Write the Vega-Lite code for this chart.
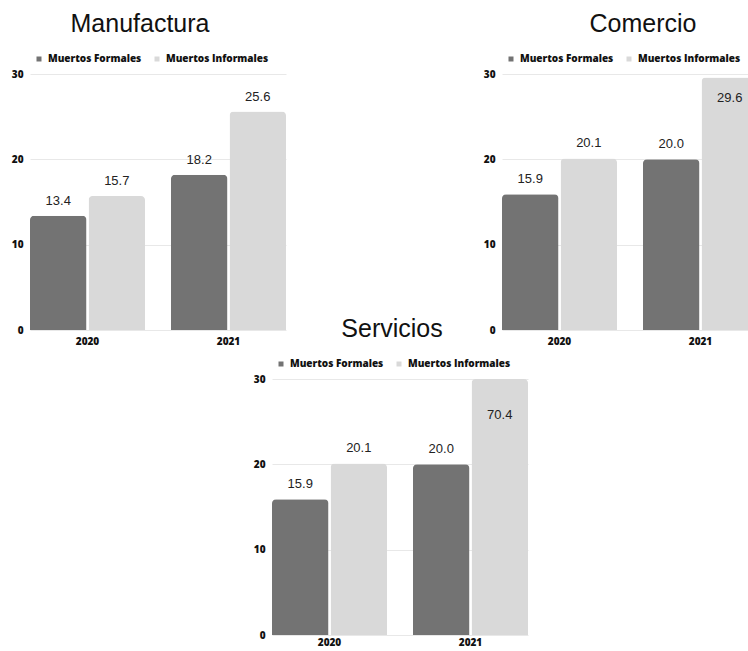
{
  "$schema": "https://vega.github.io/schema/vega-lite/v6.json",
  "padding": {"left": 11, "top": 12, "right": 0, "bottom": 0},
  "background": "white",
  "datasets": {
    "muertes": [
      {"sector": "Manufactura", "anio": "2020", "tipo": "Muertos Formales", "valor": 13.4},
      {"sector": "Manufactura", "anio": "2020", "tipo": "Muertos Informales", "valor": 15.7},
      {"sector": "Manufactura", "anio": "2021", "tipo": "Muertos Formales", "valor": 18.2},
      {"sector": "Manufactura", "anio": "2021", "tipo": "Muertos Informales", "valor": 25.6},
      {"sector": "Comercio", "anio": "2020", "tipo": "Muertos Formales", "valor": 15.9},
      {"sector": "Comercio", "anio": "2020", "tipo": "Muertos Informales", "valor": 20.1},
      {"sector": "Comercio", "anio": "2021", "tipo": "Muertos Formales", "valor": 20.0},
      {"sector": "Comercio", "anio": "2021", "tipo": "Muertos Informales", "valor": 29.6},
      {"sector": "Servicios", "anio": "2020", "tipo": "Muertos Formales", "valor": 15.9},
      {"sector": "Servicios", "anio": "2020", "tipo": "Muertos Informales", "valor": 20.1},
      {"sector": "Servicios", "anio": "2021", "tipo": "Muertos Formales", "valor": 20.0},
      {"sector": "Servicios", "anio": "2021", "tipo": "Muertos Informales", "valor": 70.4}
    ]
  },
  "config": {
    "view": {"stroke": null},
    "axis": {
      "labelFont": "Open Sans", "labelFontWeight": 800, "labelFontSize": 10, "labelColor": "#111",
      "domain": false, "ticks": false, "title": null
    },
    "axisX": {"labelAngle": 0, "labelPadding": 6, "grid": false},
    "axisY": {"labelPadding": 7, "grid": true, "gridColor": "#e8e8e8"},
    "legend": {
      "orient": "top", "direction": "horizontal", "title": null, "symbolType": "square", "symbolSize": 25,
      "labelFont": "Open Sans", "labelFontWeight": 800, "labelFontSize": 10, "labelColor": "#111",
      "labelOffset": 4, "columnPadding": 10, "padding": 4, "offset": 6
    },
    "title": {"font": "Liberation Sans", "fontSize": 25, "fontWeight": "normal", "color": "#111", "anchor": "middle", "frame": "group", "offset": 13}
  },
  "bounds": "flush",
  "spacing": 305,
  "resolve": {"legend": {"color": "independent"}},
  "vconcat": [
    {
      "bounds": "flush",
      "spacing": 216,
      "resolve": {"legend": {"color": "independent"}},
      "hconcat": [
        {
          "title": {"text": "Manufactura", "dx": -18},
          "width": 256, "height": 256,
          "data": {"name": "muertes"},
          "transform": [{"filter": "datum.sector === 'Manufactura'"}],
          "encoding": {
            "x": {"field": "anio", "type": "nominal", "scale": {"paddingInner": 0.184, "paddingOuter": 0}},
            "xOffset": {"field": "tipo", "type": "nominal", "sort": ["Muertos Formales", "Muertos Informales"], "scale": {"paddingInner": 0.035}},
            "y": {"field": "valor", "type": "quantitative", "scale": {"domain": [0, 30], "clamp": true}, "axis": {"values": [0, 10, 20, 30]}}
          },
          "layer": [
            {
              "mark": {"type": "bar", "cornerRadiusTopLeft": 4, "cornerRadiusTopRight": 4},
              "encoding": {"color": {"field": "tipo", "type": "nominal", "sort": ["Muertos Formales", "Muertos Informales"], "scale": {"domain": ["Muertos Formales", "Muertos Informales"], "range": ["#737373", "#d9d9d9"]}}}
            },
            {
              "transform": [{"filter": "datum.valor < 28"}],
              "mark": {"type": "text", "font": "Liberation Sans", "fontSize": 13, "color": "#222", "baseline": "alphabetic", "dy": -11},
              "encoding": {"text": {"field": "valor", "type": "quantitative", "format": ".1f"}}
            },
            {
              "transform": [{"filter": "datum.valor >= 28 && datum.valor <= 30"}],
              "mark": {"type": "text", "font": "Liberation Sans", "fontSize": 13, "color": "#222", "baseline": "alphabetic", "dy": 25},
              "encoding": {"text": {"field": "valor", "type": "quantitative", "format": ".1f"}}
            }
          ]
        },
        {
          "title": {"text": "Comercio", "dx": 13},
          "width": 256, "height": 256,
          "data": {"name": "muertes"},
          "transform": [{"filter": "datum.sector === 'Comercio'"}],
          "encoding": {
            "x": {"field": "anio", "type": "nominal", "scale": {"paddingInner": 0.184, "paddingOuter": 0}},
            "xOffset": {"field": "tipo", "type": "nominal", "sort": ["Muertos Formales", "Muertos Informales"], "scale": {"paddingInner": 0.035}},
            "y": {"field": "valor", "type": "quantitative", "scale": {"domain": [0, 30], "clamp": true}, "axis": {"values": [0, 10, 20, 30]}}
          },
          "layer": [
            {
              "mark": {"type": "bar", "cornerRadiusTopLeft": 4, "cornerRadiusTopRight": 4},
              "encoding": {"color": {"field": "tipo", "type": "nominal", "sort": ["Muertos Formales", "Muertos Informales"], "scale": {"domain": ["Muertos Formales", "Muertos Informales"], "range": ["#737373", "#d9d9d9"]}}}
            },
            {
              "transform": [{"filter": "datum.valor < 28"}],
              "mark": {"type": "text", "font": "Liberation Sans", "fontSize": 13, "color": "#222", "baseline": "alphabetic", "dy": -11},
              "encoding": {"text": {"field": "valor", "type": "quantitative", "format": ".1f"}}
            },
            {
              "transform": [{"filter": "datum.valor >= 28 && datum.valor <= 30"}],
              "mark": {"type": "text", "font": "Liberation Sans", "fontSize": 13, "color": "#222", "baseline": "alphabetic", "dy": 25},
              "encoding": {"text": {"field": "valor", "type": "quantitative", "format": ".1f"}}
            }
          ]
        }
      ]
    },
    {
      "bounds": "flush",
      "spacing": 10,
      "resolve": {"legend": {"color": "independent"}},
      "hconcat": [
        {
          "width": 232, "height": 256,
          "data": {"values": []},
          "mark": {"type": "point", "opacity": 0},
          "encoding": {}
        },
        {
          "title": {"text": "Servicios", "dx": -8},
          "width": 256, "height": 256,
          "data": {"name": "muertes"},
          "transform": [{"filter": "datum.sector === 'Servicios'"}],
          "encoding": {
            "x": {"field": "anio", "type": "nominal", "scale": {"paddingInner": 0.184, "paddingOuter": 0}, "axis": {"labelPadding": 2}},
            "xOffset": {"field": "tipo", "type": "nominal", "sort": ["Muertos Formales", "Muertos Informales"], "scale": {"paddingInner": 0.035}},
            "y": {"field": "valor", "type": "quantitative", "scale": {"domain": [0, 30], "clamp": true}, "axis": {"values": [0, 10, 20, 30]}}
          },
          "layer": [
            {
              "mark": {"type": "bar", "cornerRadiusTopLeft": 4, "cornerRadiusTopRight": 4},
              "encoding": {"color": {"field": "tipo", "type": "nominal", "sort": ["Muertos Formales", "Muertos Informales"], "scale": {"domain": ["Muertos Formales", "Muertos Informales"], "range": ["#737373", "#d9d9d9"]}}}
            },
            {
              "transform": [{"filter": "datum.valor < 28"}],
              "mark": {"type": "text", "font": "Liberation Sans", "fontSize": 13, "color": "#222", "baseline": "alphabetic", "dy": -11},
              "encoding": {"text": {"field": "valor", "type": "quantitative", "format": ".1f"}}
            },
            {
              "transform": [{"filter": "datum.valor > 30"}],
              "mark": {"type": "text", "font": "Liberation Sans", "fontSize": 13, "color": "#222", "baseline": "alphabetic", "dy": 40},
              "encoding": {"text": {"field": "valor", "type": "quantitative", "format": ".1f"}}
            }
          ]
        }
      ]
    }
  ]
}
